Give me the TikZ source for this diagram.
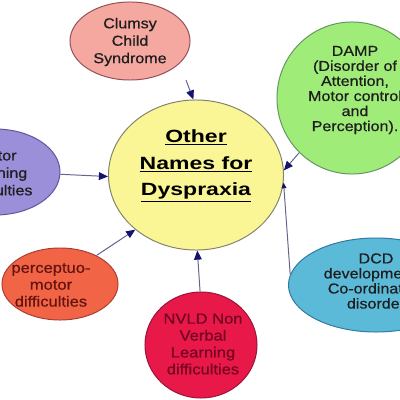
\documentclass[tikz,border=0pt]{standalone}
\usepackage{fontspec}
\setmainfont{Liberation Sans}
\newfontfamily\widesans{Liberation Sans}[FakeStretch=1.12,FakeBold=0.6]
\newfontfamily\titlesans{Liberation Sans}[FakeStretch=1.3]
\usetikzlibrary{arrows.meta,shapes.geometric}

\definecolor{centrefill}{RGB}{250,246,150}
\definecolor{centreedge}{RGB}{130,130,110}
\definecolor{clumsyfill}{RGB}{244,168,160}
\definecolor{clumsyedge}{RGB}{150,80,90}
\definecolor{dampfill}{RGB}{160,236,120}
\definecolor{dampedge}{RGB}{100,150,100}
\definecolor{motorfill}{RGB}{155,143,217}
\definecolor{motoredge}{RGB}{100,85,150}
\definecolor{perceptfill}{RGB}{242,100,70}
\definecolor{perceptedge}{RGB}{170,60,50}
\definecolor{nvldfill}{RGB}{232,25,72}
\definecolor{nvldedge}{RGB}{150,20,60}
\definecolor{dcdfill}{RGB}{92,186,217}
\definecolor{dcdedge}{RGB}{50,120,160}
\definecolor{textdark}{RGB}{30,30,30}
\definecolor{percepttext}{RGB}{100,20,15}
\definecolor{nvldtext}{RGB}{115,5,35}
\definecolor{linkgray}{RGB}{100,100,140}
\definecolor{arrownavy}{RGB}{20,20,110}

\tikzset{
  bubble/.style={draw, ellipse, inner sep=0pt, line width=0.7pt},
  bubble text/.style={align=center, inner sep=0pt, text=textdark,
    font=\widesans\fontsize{10.2}{10.7}\selectfont},
  title text/.style={align=center, inner sep=0pt, text=black,
    font=\titlesans\bfseries\fontsize{12.6}{19}\selectfont},
  link/.style={draw=linkgray, line width=0.7pt,
    -{Triangle[length=6.5pt,width=5.5pt,color=arrownavy]}}
}

\begin{document}
\begin{tikzpicture}[x=0.025cm, y=-0.025cm]
    \useasboundingbox (0,0) rectangle (400,400);
    \clip (0,0) rectangle (400,400);

    % Bubbles
    \node[bubble, draw=centreedge, fill=centrefill, minimum width=4.375cm, minimum height=3.75cm] (centre) at (196,175) {};
    \node[bubble, draw=clumsyedge, fill=clumsyfill, minimum width=3cm, minimum height=1.95cm] (clumsy) at (130,41) {};
    \node[bubble, draw=dampedge, fill=dampfill, minimum width=3.75cm, minimum height=3.8cm] (damp) at (352,98) {};
    \node[bubble, draw=motoredge, fill=motorfill, minimum width=3.25cm, minimum height=2.15cm] (motor) at (-5,172) {};
    \node[bubble, draw=perceptedge, fill=perceptfill, minimum width=2.9cm, minimum height=1.8cm] (percept) at (60,284) {};
    \node[bubble, draw=nvldedge, fill=nvldfill, minimum width=2.8cm, minimum height=2.65cm] (nvld) at (201,345) {};
    \node[bubble, draw=dcdedge, fill=dcdfill, minimum width=4.375cm, minimum height=2.35cm] (dcd) at (376,285) {};

    % Texts
    \node[title text] (centre-t) at (196,166) {\underline{Other}\\\underline{Names for}\\\underline{Dyspraxia}};
    \node[bubble text, font=\widesans\fontsize{10.2}{12.4}\selectfont] (clumsy-t) at (130,42) {Clumsy\\Child\\Syndrome};
    \node[bubble text] (damp-t) at (355,90) {DAMP\\(Disorder of\\Attention,\\Motor control\\and\\Perception).};
    \node[bubble text, font=\widesans\fontsize{10.2}{12.4}\selectfont] (motor-t) at (-4,173) {Motor\\Learning\\Difficulties};
    \node[bubble text, text=percepttext, font=\widesans\fontsize{10.5}{12}\selectfont] (percept-t) at (51,285) {perceptuo-\\motor\\difficulties};
    \node[bubble text, text=nvldtext, font=\widesans\fontsize{10.5}{12}\selectfont] (nvld-t) at (203,344) {NVLD Non\\Verbal\\Learning\\difficulties};
    \node[bubble text] (dcd-t) at (376,281) {DCD\\developmental\\Co-ordination\\disorder};

    % Connectors
    \coordinate (clumsy-out) at (186,80);
    \draw[link] (clumsy-out) -- (centre.92);
    \draw[link] (damp.226) -- (centre.3);
    \draw[link, -{Triangle[length=4pt,width=3.5pt,color=arrownavy]}] (dcd.173) -- (centre.-5);
    \draw[link] (motor.-2) -- (centre.181);
    \draw[link] (percept.38) -- (centre.222);
    \draw[link] (nvld.91) -- (centre.-89);
\end{tikzpicture}
\end{document}
